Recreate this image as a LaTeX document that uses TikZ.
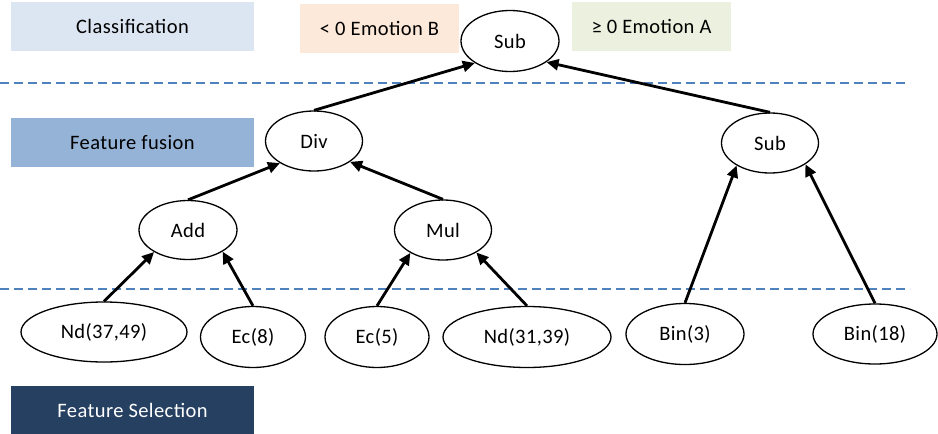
\documentclass[tikz,border=0pt]{standalone}
\usepackage{fontspec}
\setmainfont{Carlito}[LetterSpace=2]
\usetikzlibrary{arrows.meta,shapes.geometric}
\definecolor{classbg}{HTML}{DCE6F2}
\definecolor{embbg}{HTML}{FDE9D9}
\definecolor{emabg}{HTML}{EBF1DE}
\definecolor{fusionbg}{HTML}{95B3D7}
\definecolor{selbg}{HTML}{254061}
\definecolor{sepline}{HTML}{4F81BD}
\tikzset{
  op/.style={ellipse, draw=black, line width=1.3pt, fill=white, inner sep=0pt,
             font=\fontsize{20.5}{24}\selectfont},
  band/.style={rectangle, inner sep=0pt, minimum width=243pt, minimum height=49pt,
               font=\fontsize{20.5}{24}\selectfont},
  tag/.style={rectangle, inner sep=0pt, minimum width=159pt, minimum height=49pt,
              font=\fontsize{20.5}{24}\selectfont},
  edge/.style={line width=2.8pt, -{Triangle[length=12pt,width=11pt]}},
  sep/.style={sepline, line width=2.4pt, dash pattern=on 9pt off 5pt}
}
\begin{document}
\begin{tikzpicture}[x=1pt,y=-1pt]
\useasboundingbox (0,0) rectangle (938,434);

% level separators
\coordinate (s1a) at (0,83);   \coordinate (s1b) at (910,83);
\coordinate (s2a) at (0,289);  \coordinate (s2b) at (910,289);
\draw[sep] (s1a) -- (s1b);
\draw[sep] (s2a) -- (s2b);

% stage labels
\node[band, fill=classbg] (cls) at (132.5,26.5) {Classification};
\node[band, fill=fusionbg] (fus) at (132.5,142.5) {Feature fusion};
\node[band, fill=selbg, text=white, minimum height=48pt] (sel) at (132.5,410) {Feature Selection};

% output tags
\node[tag, fill=embbg] (emb) at (379.5,28.5) {< 0 Emotion B};
\node[tag, fill=emabg] (ema) at (651.5,26.5) {≥ 0 Emotion A};

% operator tree
\node[op, minimum width=98pt, minimum height=61pt] (root) at (510,41) {Sub};
\node[op, minimum width=97pt, minimum height=60pt] (div) at (314,141) {Div};
\node[op, minimum width=97pt, minimum height=60pt] (sub2) at (770,143) {Sub};
\node[op, minimum width=98pt, minimum height=59pt] (add) at (188,230) {Add};
\node[op, minimum width=97pt, minimum height=60pt] (mul) at (443,230) {Mul};

% selected features
\node[op, minimum width=166pt, minimum height=60pt] (nd1) at (104,332) {Nd(37,49)};
\node[op, minimum width=105pt, minimum height=61pt] (ec8) at (253,337) {Ec(8)};
\node[op, minimum width=104pt, minimum height=61pt] (ec5) at (377,337) {Ec(5)};
\node[op, minimum width=168pt, minimum height=61pt] (nd2) at (527,337) {Nd(31,39)};
\node[op, minimum width=118pt, minimum height=61pt] (bin3) at (685,334) {Bin(3)};
\node[op, minimum width=124pt, minimum height=60pt] (bin18) at (875,334) {Bin(18)};

% connectors
\draw[edge] (div.north) -- (root.212);
\draw[edge] (sub2.north) -- (root.330);
\draw[edge] (add.north) -- (div.213);
\draw[edge] (mul.north) -- (div.330);
\draw[edge] (nd1.north) -- (add.213);
\draw[edge] (ec8.north) -- (add.328);
\draw[edge] (ec5.north) -- (mul.215);
\draw[edge] (nd2.north) -- (mul.326);
\draw[edge] (bin3.north) -- (sub2.214);
\draw[edge] (bin18.north) -- (sub2.329);
\end{tikzpicture}
\end{document}
